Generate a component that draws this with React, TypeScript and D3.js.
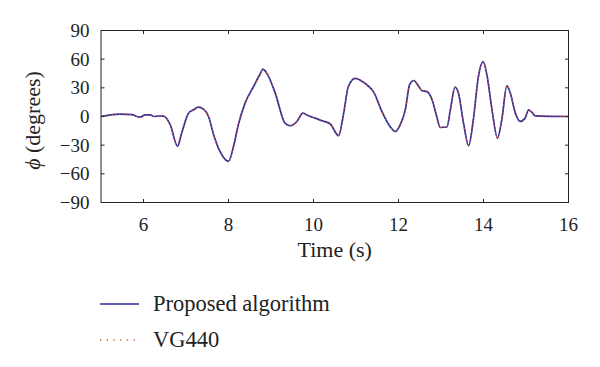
import { useEffect, useRef } from "react";
import * as d3 from "d3";

// roll angle trace (time in s, angle in degrees)
const TIME = [
	5.0, 5.2, 5.45, 5.73, 5.84, 5.92, 6.04, 6.16, 6.24, 6.35, 6.47, 6.63, 6.8, 6.9, 7.06, 7.18,
	7.29, 7.41, 7.53, 7.65, 7.8, 8.0, 8.12, 8.24, 8.39, 8.59, 8.75, 8.81, 8.9, 9.1, 9.33, 9.45,
	9.61, 9.75, 9.88, 10.04, 10.2, 10.39, 10.59, 10.71, 10.82, 10.98, 11.1, 11.26, 11.41, 11.61,
	11.8, 11.92, 12.04, 12.16, 12.26, 12.36, 12.47, 12.55, 12.67, 12.79, 12.9, 12.98, 13.14,
	13.22, 13.33, 13.41, 13.53, 13.65, 13.76, 13.88, 13.99, 14.08, 14.2, 14.33, 14.43, 14.55,
	14.63, 14.75, 14.86, 14.98, 15.06, 15.14, 15.22, 16.0
];
const PHI = [
	0, 1.5, 2.5, 2, 0, -0.7, 1.8, 1.8, 0, 0.5, 0.3, -8.7, -31, -17, 3.5, 7,
	9.8, 7.7, 0, -19, -36.6, -47, -31, -7, 14, 31.4, 45, 49.6, 45.4, 24.5, -7, -9.7,
	-5.2, 3.5, 0.7, -1.7, -4.5, -7.6, -20, 3.5, 31.4, 40, 38, 33, 26, 5.2,
	-10.5, -15.7, -8.7, 7, 33, 37.7, 32, 27, 26, 17.5, 0, -11.5, -11,
	7, 30.7, 24.5, -7, -30.6, -3.5, 41.8, 57.5, 43.6, 7, -22.6, -3.5, 32,
	24.5, 3.5, -5.2, -1.7, 7, 4.2, 0.7, 0
];
// the reference estimate follows the proposed trace almost exactly
const PHI_VG440 = PHI.map(v => v);

const X_TICKS = [6, 8, 10, 12, 14, 16];
const Y_TICKS = [-90, -60, -30, 0, 30, 60, 90];
const SERIES = ["Proposed algorithm", "VG440"];

export default function App() {
	const ref = useRef<SVGSVGElement>(null);

	useEffect(() => {
		const svg = d3.select(ref.current);
		svg.selectAll("*").remove();

		const left = 101, right = 568.5, top = 30.5, bottom = 202.5;
		const font = "'Liberation Serif', 'Times New Roman', serif";
		const ink = "#222";

		const x = d3.scaleLinear().domain([5, 16]).range([left, right]);
		const y = d3.scaleLinear().domain([-90, 90]).range([bottom, top]);

		const pts: [number, number][] = TIME.map((t, i) => [t, PHI[i]]);
		const pts2: [number, number][] = TIME.map((t, i) => [t, PHI_VG440[i]]);

		const line = d3.line<[number, number]>()
			.x(d => x(d[0]))
			.y(d => y(d[1]))
			.curve(d3.curveMonotoneX);

		svg.append("path")
			.attr("d", line(pts))
			.attr("fill", "none")
			.attr("stroke", "#2b2b9c")
			.attr("stroke-width", 1.7);

		svg.append("path")
			.attr("d", line(pts2))
			.attr("fill", "none")
			.attr("stroke", "#e8542a")
			.attr("stroke-width", 1.1)
			.attr("stroke-dasharray", "1.2,2.4");

		// box
		svg.append("rect")
			.attr("x", left)
			.attr("y", top)
			.attr("width", right - left)
			.attr("height", bottom - top)
			.attr("fill", "none")
			.attr("stroke", ink)
			.attr("stroke-width", 1);

		// ticks (inward, mirrored)
		const tk = 3.5;
		X_TICKS.forEach(v => {
			svg.append("line").attr("x1", x(v)).attr("x2", x(v)).attr("y1", bottom).attr("y2", bottom - tk).attr("stroke", ink);
			svg.append("line").attr("x1", x(v)).attr("x2", x(v)).attr("y1", top).attr("y2", top + tk).attr("stroke", ink);
			svg.append("text")
				.attr("x", x(v))
				.attr("y", 231)
				.attr("text-anchor", "middle")
				.attr("font-family", font)
				.attr("font-size", 19)
				.attr("fill", ink)
				.text(v);
		});
		Y_TICKS.forEach(v => {
			svg.append("line").attr("x1", left).attr("x2", left + tk).attr("y1", y(v)).attr("y2", y(v)).attr("stroke", ink);
			svg.append("line").attr("x1", right).attr("x2", right - tk).attr("y1", y(v)).attr("y2", y(v)).attr("stroke", ink);
			svg.append("text")
				.attr("x", 89.5)
				.attr("y", y(v) + 6.5)
				.attr("text-anchor", "end")
				.attr("font-family", font)
				.attr("font-size", 19)
				.attr("fill", ink)
				.text(v < 0 ? "\u2212" + Math.abs(v) : String(v));
		});

		svg.append("text")
			.attr("x", (left + right) / 2)
			.attr("y", 257)
			.attr("text-anchor", "middle")
			.attr("font-family", font)
			.attr("font-size", 22)
			.attr("fill", ink)
			.text("Time (s)");

		const yl = svg.append("text")
			.attr("transform", `translate(40, ${(top + bottom) / 2 + 4}) rotate(-90)`)
			.attr("text-anchor", "middle")
			.attr("font-family", font)
			.attr("font-size", 22)
			.attr("fill", ink);
		yl.append("tspan").attr("font-style", "italic").text("\u03d5");
		yl.append("tspan").text(" (degrees)");

		// legend
		SERIES.forEach((name, i) => {
			const ly = 304 + i * 36;
			const seg = svg.append("line")
				.attr("x1", 100)
				.attr("x2", 139)
				.attr("y1", ly)
				.attr("y2", ly);
			if (i === 0) {
				seg.attr("stroke", "#2b2b9c").attr("stroke-width", 1.5);
			} else {
				seg.attr("stroke", "#e0602e").attr("stroke-width", 1.3).attr("stroke-dasharray", "1.3,5.4");
			}
			svg.append("text")
				.attr("x", 153)
				.attr("y", ly + 6.5)
				.attr("font-family", font)
				.attr("font-size", 22.5)
				.attr("fill", ink)
				.text(name);
		});
	}, []);

	return (
		<svg
			ref={ref}
			width={600}
			height={367}
			style={{ position: "absolute", left: 0, top: 0, background: "#fff" }}
		/>
	);
}
